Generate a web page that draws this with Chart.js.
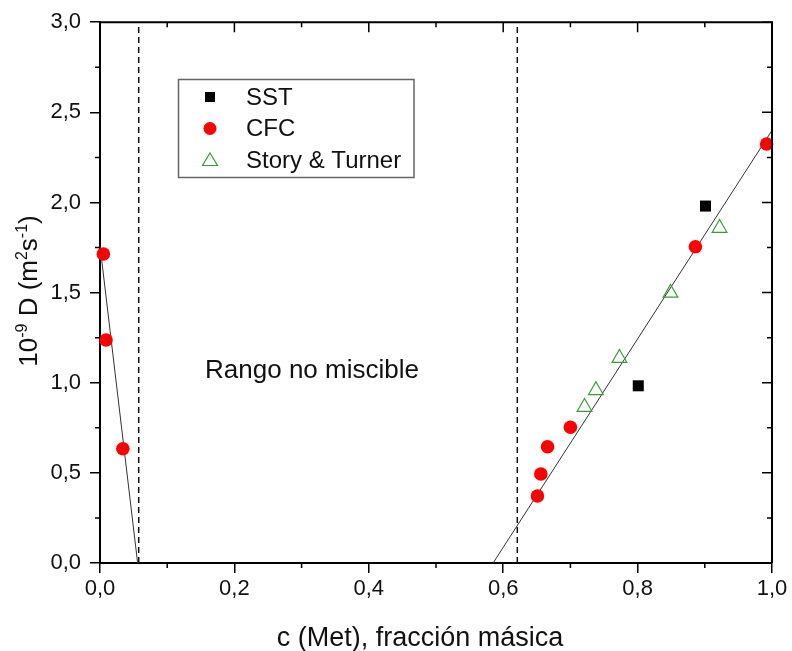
<!DOCTYPE html>
<html>
<head>
<meta charset="utf-8">
<script src="https://cdn.jsdelivr.net/npm/chart.js@4/dist/chart.umd.min.js"></script>
<style>
  html, body { margin: 0; padding: 0; background: #fff; }
  #wrap { width: 792px; height: 651px; }
</style>
</head>
<body>
<div id="wrap"><canvas id="chart" width="792" height="651"></canvas></div>
<script>
// data
const sstX = [0.801, 0.901];
const sstY = [0.983, 1.98];
const cfcX = [0.005, 0.009, 0.034, 0.651, 0.656, 0.666, 0.700, 0.886, 0.992];
const cfcY = [1.714, 1.237, 0.634, 0.372, 0.494, 0.645, 0.753, 1.754, 2.324];
const stX = [0.721, 0.738, 0.773, 0.849, 0.922];
const stY = [0.865, 0.958, 1.137, 1.498, 1.858];

// linear fits
const fitLeftX = [0, 0.056];
const fitLeftY = [1.76, 0];
const fitRightX = [0.585, 1.0];
const fitRightY = [0, 2.40];

// miscibility limits (dashed)
const limitX = [0.0576, 0.621];
const limitY = [0, 3.0];

const xTicks = [0, 0.2, 0.4, 0.6, 0.8, 1.0];
const yTicks = [0, 0.5, 1.0, 1.5, 2.0, 2.5, 3.0];
const xMinor = [0.1, 0.3, 0.5, 0.7, 0.9];
const yMinor = [0.25, 0.75, 1.25, 1.75, 2.25, 2.75];

const FONT = '"Liberation Sans", Arial, sans-serif';

const pts = (xs, ys) => xs.map((x, i) => ({ x: x, y: ys[i] }));
const fmt = v => v.toFixed(1).replace('.', ',');

const frame = {
    id: 'frame',
    afterDraw(chart) {
        const { ctx, chartArea: a, scales: { x, y } } = chart;
        ctx.save();
        ctx.strokeStyle = '#000';

        // top and right axis lines
        ctx.lineWidth = 2;
        ctx.beginPath();
        ctx.moveTo(a.left, a.top);
        ctx.lineTo(a.right, a.top);
        ctx.lineTo(a.right, a.bottom);
        ctx.stroke();

        ctx.lineWidth = 1.5;
        ctx.beginPath();
        // top: inward ticks
        xTicks.forEach(v => { const p = x.getPixelForValue(v); ctx.moveTo(p, a.top); ctx.lineTo(p, a.top + 10); });
        xMinor.forEach(v => { const p = x.getPixelForValue(v); ctx.moveTo(p, a.top); ctx.lineTo(p, a.top + 5); });
        // bottom minor outward
        xMinor.forEach(v => { const p = x.getPixelForValue(v); ctx.moveTo(p, a.bottom); ctx.lineTo(p, a.bottom + 5); });
        // right: inward ticks
        yTicks.forEach(v => { const p = y.getPixelForValue(v); ctx.moveTo(a.right, p); ctx.lineTo(a.right - 10, p); });
        yMinor.forEach(v => { const p = y.getPixelForValue(v); ctx.moveTo(a.right, p); ctx.lineTo(a.right - 5, p); });
        // left minor outward
        yMinor.forEach(v => { const p = y.getPixelForValue(v); ctx.moveTo(a.left, p); ctx.lineTo(a.left - 5, p); });
        ctx.stroke();

        // annotation
        ctx.fillStyle = '#111';
        ctx.font = '26px ' + FONT;
        ctx.textAlign = 'center';
        ctx.textBaseline = 'alphabetic';
        ctx.fillText('Rango no miscible', 312, 378);

        // x title
        ctx.font = '27px ' + FONT;
        ctx.fillText('c (Met), fracción másica', 420, 646);

        // y title with superscripts
        const parts = [
            ['10', false], ['-9', true], [' D (m', false], ['2', true],
            ['s', false], ['-1', true], [')', false]
        ];
        const big = '26px ' + FONT, small = '16px ' + FONT;
        let total = 0;
        parts.forEach(([t, sup]) => { ctx.font = sup ? small : big; total += ctx.measureText(t).width; });
        ctx.translate(37, 291);
        ctx.rotate(-Math.PI / 2);
        ctx.textAlign = 'left';
        let cx = -total / 2;
        parts.forEach(([t, sup]) => {
            ctx.font = sup ? small : big;
            ctx.fillText(t, cx, sup ? -10 : 0);
            cx += ctx.measureText(t).width;
        });
        ctx.setTransform(1, 0, 0, 1, 0, 0);

        // legend
        ctx.strokeStyle = '#666';
        ctx.lineWidth = 1.5;
        ctx.strokeRect(178.5, 79.5, 235.5, 98);
        const rows = chart.data.datasets.slice(0, 3);
        rows.forEach((ds, i) => {
            const ry = 97 + i * 31.5;
            const mx = 210;
            ctx.lineWidth = 1.2;
            if (ds.pointStyle === 'rect') {
                ctx.fillStyle = ds.backgroundColor;
                ctx.fillRect(mx - 5, ry - 5, 10, 10);
            } else if (ds.pointStyle === 'circle') {
                ctx.fillStyle = ds.backgroundColor;
                ctx.beginPath();
                ctx.arc(mx, ry, 6.5, 0, Math.PI * 2);
                ctx.fill();
            } else {
                ctx.strokeStyle = ds.borderColor;
                ctx.beginPath();
                ctx.moveTo(mx, ry - 7);
                ctx.lineTo(mx + 7.5, ry + 5.5);
                ctx.lineTo(mx - 7.5, ry + 5.5);
                ctx.closePath();
                ctx.stroke();
            }
            ctx.fillStyle = '#111';
            ctx.font = '24px ' + FONT;
            ctx.textAlign = 'left';
            ctx.textBaseline = 'middle';
            ctx.fillText(ds.label, 246, ry + 1);
        });
        ctx.restore();
    }
};

const lineDs = (xs, ys, extra) => Object.assign({
    data: pts(xs, ys),
    showLine: true,
    pointRadius: 0,
    borderColor: '#333',
    borderWidth: 1,
    fill: false
}, extra);

new Chart(document.getElementById('chart'), {
    type: 'scatter',
    data: {
        datasets: [
            {
                label: 'SST',
                data: pts(sstX, sstY),
                pointStyle: 'rect',
                pointRadius: 7.8,
                backgroundColor: '#000',
                borderColor: '#000',
                borderWidth: 0,
                order: 0
            },
            {
                label: 'CFC',
                data: pts(cfcX, cfcY),
                pointStyle: 'circle',
                pointRadius: 6.8,
                backgroundColor: '#ff0000',
                borderColor: '#ff0000',
                borderWidth: 0,
                order: 1
            },
            {
                label: 'Story & Turner',
                data: pts(stX, stY),
                pointStyle: 'triangle',
                pointRadius: 8.5,
                backgroundColor: 'rgba(0,0,0,0)',
                borderColor: '#3a9a3a',
                borderWidth: 1.2,
                order: 2
            },
            lineDs(fitLeftX, fitLeftY, { label: 'fit1', order: 3 }),
            lineDs(fitRightX, fitRightY, { label: 'fit2', order: 3 }),
            lineDs([limitX[0], limitX[0]], limitY, { label: 'lim1', borderColor: '#111', borderWidth: 1.5, borderDash: [6, 4], order: 4 }),
            lineDs([limitX[1], limitX[1]], limitY, { label: 'lim2', borderColor: '#111', borderWidth: 1.5, borderDash: [6, 4], order: 4 })
        ]
    },
    options: {
        responsive: false,
        animation: false,
        clip: false,
        layout: { padding: { top: 21, right: 20, left: 0, bottom: 0 } },
        plugins: {
            legend: { display: false },
            tooltip: { enabled: false }
        },
        scales: {
            x: {
                type: 'linear',
                min: 0,
                max: 1.0,
                afterFit: s => { s.height = 88; },
                afterBuildTicks: s => { s.ticks = xTicks.map(v => ({ value: v })); },
                ticks: {
                    color: '#111',
                    font: { family: FONT, size: 22 },
                    padding: 3,
                    maxRotation: 0,
                    callback: fmt
                },
                grid: {
                    drawOnChartArea: false,
                    drawTicks: true,
                    tickLength: 10,
                    color: '#000',
                    lineWidth: 1.5
                },
                border: { display: true, color: '#000', width: 2 }
            },
            y: {
                type: 'linear',
                min: 0,
                max: 3.0,
                afterFit: s => { s.width = 100; },
                afterBuildTicks: s => { s.ticks = yTicks.map(v => ({ value: v })); },
                ticks: {
                    color: '#111',
                    font: { family: FONT, size: 22 },
                    padding: 9,
                    callback: fmt
                },
                grid: {
                    drawOnChartArea: false,
                    drawTicks: true,
                    tickLength: 10,
                    color: '#000',
                    lineWidth: 1.5
                },
                border: { display: true, color: '#000', width: 2 }
            }
        }
    },
    plugins: [frame]
});
</script>
</body>
</html>
